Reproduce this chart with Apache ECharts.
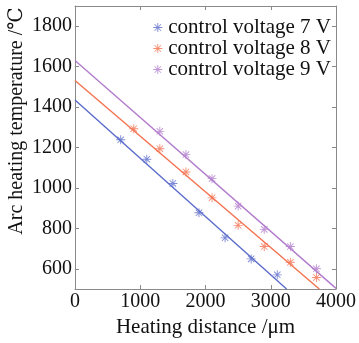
<!DOCTYPE html>
<html>
<head>
<meta charset="utf-8">
<script src="https://cdn.jsdelivr.net/npm/echarts@6/dist/echarts.min.js"></script>
<style>
  html, body { margin: 0; padding: 0; background: #fff; }
  #chart { width: 359px; height: 343px; }
</style>
</head>
<body>
<div id="chart"></div>
<script>
// measured points (distance in um, temperature in C)
const dist7 = [700, 1100, 1500, 1900, 2300, 2700, 3100]
const temp7 = [1238, 1142, 1022, 877, 753, 649, 570]
const dist8 = [900, 1300, 1700, 2100, 2500, 2900, 3300, 3700]
const temp8 = [1293, 1194, 1079, 951, 815, 710, 632, 557]
const dist9 = [1300, 1700, 2100, 2500, 2900, 3300, 3700]
const temp9 = [1280, 1165, 1046, 910, 795, 710, 600]

// fitted lines, start and end
const fit7 = [[0, 1435], [3243, 500]]
const fit8 = [[0, 1531], [3744, 500]]
const fit9 = [[0, 1630], [4000, 503]]

const names = ['control voltage 7 V', 'control voltage 8 V', 'control voltage 9 V']
const colors = ['#5b6bcb', '#f4714f', '#b27ccd']
const yTicks = [600, 800, 1000, 1200, 1400, 1600, 1800]

const STAR = 'path://M9 0H11V20H9Z M0 9H20V11H0Z M2.2 3.6L3.6 2.2L17.8 16.4L16.4 17.8Z M16.4 2.2L17.8 3.6L3.6 17.8L2.2 16.4Z'
const FONT = '"Liberation Serif", "DejaVu Serif", serif'
const frame = '#8a8a8a'

const zip = (xs, ys) => xs.map((x, i) => [x, ys[i]])
const plain = v => String(v)

const chart = echarts.init(document.getElementById('chart'), null, { renderer: 'canvas' })

function xAxisOf(pos, showLabel) {
    return {
        type: 'value', position: pos, min: 0, max: 4000, interval: 1000,
        axisLine: { show: true, onZero: false, lineStyle: { color: frame, width: 1 } },
        axisTick: { show: true, inside: true, length: 4, lineStyle: { color: frame } },
        splitLine: { show: false },
        axisLabel: { show: showLabel, formatter: plain, color: '#111', fontFamily: FONT, fontSize: 20, margin: 3 },
        name: showLabel ? 'Heating distance /\u03bcm' : '',
        nameLocation: 'middle', nameGap: 28,
        nameTextStyle: { color: '#111', fontFamily: FONT, fontSize: 21 },
    }
}

function yAxisOf(pos, showLabel) {
    return {
        type: 'value', position: pos, min: 500, max: 1900,
        axisLine: { show: true, onZero: false, lineStyle: { color: frame, width: 1 } },
        axisTick: { show: true, inside: true, length: 4, customValues: yTicks, lineStyle: { color: frame } },
        splitLine: { show: false },
        axisLabel: { show: showLabel, customValues: yTicks, formatter: plain, color: '#111', fontFamily: FONT, fontSize: 20, margin: 3 },
    }
}

const dataSets = [[dist7, temp7, fit7], [dist8, temp8, fit8], [dist9, temp9, fit9]]
const series = []
dataSets.forEach(([xs, ys, fit], i) => {
    series.push({
        name: 'fit ' + names[i], type: 'line', data: fit, showSymbol: false, clip: true,
        lineStyle: { color: colors[i], width: 1.4 }, silent: true, z: 2,
    })
    series.push({
        name: names[i], type: 'scatter', data: zip(xs, ys), symbol: STAR, symbolSize: 9,
        itemStyle: { color: colors[i], opacity: 0.8 }, z: 3,
    })
})

chart.setOption({
    animation: false,
    grid: { left: 75, right: 19, top: 6, bottom: 50 },
    legend: {
        data: names.map((n, i) => ({ name: n, icon: STAR, itemStyle: { color: colors[i], opacity: 0.8 } })),
        orient: 'vertical', right: 28, top: 17, padding: 0, itemGap: 0,
        itemWidth: 9, itemHeight: 9,
        textStyle: { color: '#111', fontFamily: FONT, fontSize: 21, lineHeight: 21, padding: [0, 0, 0, 1] },
    },
    xAxis: [xAxisOf('bottom', true), xAxisOf('top', false)],
    yAxis: [yAxisOf('left', true), yAxisOf('right', false)],
    graphic: [{
        type: 'text', x: 17, y: 121, rotation: Math.PI / 2,
        style: {
            text: 'Arc heating temperature /\u2103', fill: '#111',
            font: '20px ' + FONT, textAlign: 'center', textVerticalAlign: 'middle',
        },
    }],
    series,
})
</script>
</body>
</html>
